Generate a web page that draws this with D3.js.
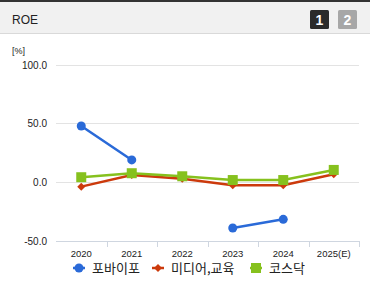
<!DOCTYPE html>
<html><head><meta charset="utf-8">
<script src="https://cdn.jsdelivr.net/npm/d3@7"></script>
<style>
html,body{margin:0;padding:0;background:#fff;}
svg{display:block;}
</style></head>
<body>
<svg id="c" width="370" height="285"></svg>
<script>
const categories = ["2020","2021","2022","2023","2024","2025(E)"];
const seriesNames = ["포바이포","미디어,교육","코스닥"];
const poba = [47.7, 18.9, null, -39.0, -31.6, null];
const media = [-3.8, 6.0, 3.0, -2.6, -2.6, 6.8];
const kosdaq = [4.2, 7.6, 5.0, 1.8, 1.8, 10.4];
const yTicks = [-50, 0, 50, 100];
const yTickLabels = ["-50.0","0.0","50.0","100.0"];
const colors = ["#2a6ad8","#cc3a0c","#86c11e"];

(function(){
const svg = d3.select("#c");
const font = "'Liberation Sans', Arial, 'Noto Sans CJK KR', sans-serif";

// header
svg.append("rect").attr("x",0).attr("y",0).attr("width",370).attr("height",34).attr("fill","#f1f1f1");
svg.append("rect").attr("x",0).attr("y",0).attr("width",370).attr("height",2).attr("fill","#333");
svg.append("rect").attr("x",0).attr("y",33).attr("width",370).attr("height",1).attr("fill","#d9d9d9");
svg.append("text").attr("x",12).attr("y",24).attr("font-family",font).attr("font-size",12).attr("fill","#222").text("ROE");
svg.append("rect").attr("x",310).attr("y",10).attr("width",19).attr("height",19).attr("rx",1.5).attr("fill","#2b2b2b");
svg.append("text").attr("x",319.5).attr("y",25).attr("text-anchor","middle").attr("font-family",font).attr("font-weight","bold").attr("font-size",14).attr("fill","#fff").text("1");
svg.append("rect").attr("x",338).attr("y",10).attr("width",19).attr("height",19).attr("rx",1.5).attr("fill","#a7a7a7");
svg.append("text").attr("x",347.5).attr("y",25).attr("text-anchor","middle").attr("font-family",font).attr("font-weight","bold").attr("font-size",14).attr("fill","#fff").text("2");

const mLeft = 56, mRight = 359, mTop = 64.5, mBottom = 241;
const x = d3.scaleBand().domain(categories).range([mLeft,mRight]);
const y = d3.scaleLinear().domain([-50,100]).range([mBottom,mTop]);

// gridlines
svg.append("g").selectAll("line").data(yTicks.filter(d=>d!==-50)).join("line")
  .attr("x1",mLeft).attr("x2",mRight).attr("y1",d=>Math.round(y(d))+0.5).attr("y2",d=>Math.round(y(d))+0.5)
  .attr("stroke","#e3e3e3").attr("stroke-width",1);

// y labels
svg.append("g").selectAll("text").data(yTicks).join("text")
  .attr("x",47).attr("y",d=>y(d)+4).attr("text-anchor","end")
  .attr("font-family",font).attr("font-size",10).attr("fill","#222")
  .text((d,i)=>yTickLabels[i]);
svg.append("text").attr("x",12).attr("y",54).attr("font-family",font).attr("font-size",9).attr("fill","#222").text("[%]");

// x axis
const xAxis = d3.axisBottom(x).tickSize(0).tickPadding(9);
const gx = svg.append("g").attr("transform",`translate(0,${Math.round(mBottom)+0.5})`).call(xAxis);
gx.select(".domain").attr("stroke","#cfd6e0").attr("d",`M${mLeft},0H${mRight}`);
gx.selectAll("text").attr("font-family",font).attr("font-size",9.5).attr("fill","#222");
svg.append("g").selectAll("line").data(categories).join("line")
  .attr("x1",(d,i)=>Math.round(mLeft + x.bandwidth()*(i+1))+0.5)
  .attr("x2",(d,i)=>Math.round(mLeft + x.bandwidth()*(i+1))+0.5)
  .attr("y1",mBottom).attr("y2",mBottom+6).attr("stroke","#cfd6e0");

const cx = c => x(c) + x.bandwidth()/2;
const line = d3.line().defined(d=>d.v!==null).x(d=>cx(d.c)).y(d=>y(d.v));

function drawSeries(vals, color, shape){
  const data = categories.map((c,i)=>({c, v: vals[i]}));
  svg.append("path").datum(data).attr("d",line).attr("fill","none").attr("stroke",color).attr("stroke-width",2.5);
  const pts = data.filter(d=>d.v!==null);
  const g = svg.append("g");
  if(shape==="circle"){
    g.selectAll("circle").data(pts).join("circle").attr("cx",d=>cx(d.c)).attr("cy",d=>y(d.v)).attr("r",4.5).attr("fill",color);
  } else if(shape==="diamond"){
    g.selectAll("path").data(pts).join("path").attr("transform",d=>`translate(${cx(d.c)},${y(d.v)})`)
      .attr("d","M0,-4L4,0L0,4L-4,0Z").attr("fill",color);
  } else {
    g.selectAll("rect").data(pts).join("rect").attr("x",d=>cx(d.c)-5).attr("y",d=>y(d.v)-5).attr("width",10).attr("height",10).attr("fill",color);
  }
}
drawSeries(media, colors[1], "diamond");
drawSeries(kosdaq, colors[2], "square");
drawSeries(poba, colors[0], "circle");

// legend
const legendX = [79, 158, 256];
const lg = svg.append("g");
seriesNames.forEach((n,i)=>{
  const lx = legendX[i], ly = 268;
  lg.append("line").attr("x1",lx-6).attr("x2",lx+6).attr("y1",ly).attr("y2",ly).attr("stroke",colors[i]).attr("stroke-width",2.5);
  if(i===0) lg.append("circle").attr("cx",lx).attr("cy",ly).attr("r",4.5).attr("fill",colors[i]);
  else if(i===1) lg.append("path").attr("transform",`translate(${lx},${ly})`).attr("d","M0,-4L4,0L0,4L-4,0Z").attr("fill",colors[i]);
  else lg.append("rect").attr("x",lx-5).attr("y",ly-5).attr("width",10).attr("height",10).attr("fill",colors[i]);
  lg.append("text").attr("x",lx+13).attr("y",ly+5).attr("font-family","'Noto Sans CJK KR', sans-serif").attr("font-size",13).attr("fill","#222").text(n);
});
})();
</script>
</body></html>
